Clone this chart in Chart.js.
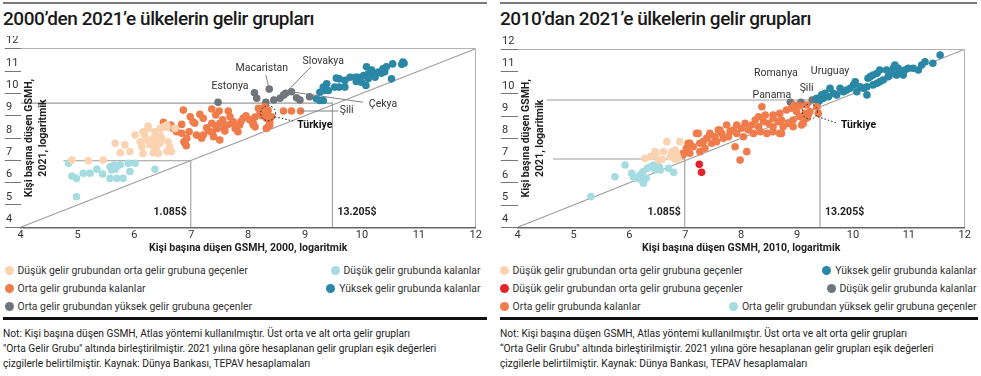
<!DOCTYPE html>
<html lang="tr">
<head>
<meta charset="utf-8">
<title>Ülkelerin gelir grupları</title>
<script src="https://cdn.jsdelivr.net/npm/chart.js@4.4.1/dist/chart.umd.min.js"></script>
<style>
  body { margin: 0; width: 981px; height: 376px; position: relative; overflow: hidden; background: #fff; font-family: Roboto, "Noto Sans", sans-serif; color: #222; }
  .rule { position: absolute; top: 2px; height: 2px; background: #7a7a7a; }
  .title { position: absolute; top: 7px; font-size: 19px; line-height: 24px; font-weight: 500; letter-spacing: -0.45px; color: #1a1a1a; white-space: nowrap; }
  .box { position: absolute; top: 36px; width: 490px; height: 224px; }
  .legend { position: absolute; top: 261px; font-size: 10.4px; color: #333; }
  .lrow { display: flex; justify-content: space-between; align-items: center; height: 18.3px; white-space: nowrap; }
  .litem { display: flex; align-items: center; }
  .litem i { display: inline-block; width: 9px; height: 9px; border-radius: 50%; margin-right: 4px; }
  .sep { position: absolute; top: 317px; height: 3px; background: #111; }
  .note { position: absolute; top: 327px; font-size: 10.2px; line-height: 14.8px; color: #222; white-space: nowrap; }
</style>
</head>
<body>
<div class="rule" style="left:3px;width:484px"></div>
<div class="rule" style="left:500px;width:477px"></div>
<div class="title" style="left:3px">2000’den 2021’e ülkelerin gelir grupları</div>
<div class="title" style="left:500px">2010’dan 2021’e ülkelerin gelir grupları</div>
<div class="box" style="left:0"><canvas id="c00"></canvas></div>
<div class="box" style="left:490px"><canvas id="c10"></canvas></div>
<div class="legend" id="lg00" style="left:4.5px;width:476px"></div>
<div class="legend" id="lg10" style="left:499.5px;width:477px"></div>
<div class="sep" style="left:3px;width:484px"></div>
<div class="sep" style="left:500px;width:478px"></div>
<div class="note" style="left:3px">Not: Kişi başına düşen GSMH, Atlas yöntemi kullanılmıştır. Üst orta ve alt orta gelir grupları<br>"Orta Gelir Grubu" altında birleştirilmiştir. 2021 yılına göre hesaplanan gelir grupları eşik değerleri<br>çizgilerle belirtilmiştir. Kaynak: Dünya Bankası, TEPAV hesaplamaları</div>
<div class="note" style="left:500px">Not: Kişi başına düşen GSMH, Atlas yöntemi kullanılmıştır. Üst orta ve alt orta gelir grupları<br>“Orta Gelir Grubu" altında birleştirilmiştir. 2021 yılına göre hesaplanan gelir grupları eşik değerleri<br>çizgilerle belirtilmiştir. Kaynak: Dünya Bankası, TEPAV hesaplamaları</div>
<script>
// values are ln(GNI per capita), [start year, 2021]
const lowToMid00 = [[4.90,7.01],[5.19,6.98],[5.45,7.01],[5.66,7.76],[5.75,7.34],[5.83,7.69],[5.92,7.39],[6.01,8.13],[6.10,7.83],[6.13,7.61],[6.15,7.31],[6.18,8.13],[6.24,8.54],[6.33,7.76],[6.36,8.28],[6.39,7.61],[6.42,7.31],[6.45,7.76],[6.48,7.99],[6.51,8.50],[6.57,8.48],[6.57,7.39],[6.59,7.83],[6.62,7.61],[6.65,7.39],[6.33,7.34],[6.15,8.28],[6.24,8.43],[6.45,8.43],[6.54,8.50],[6.45,8.13],[6.33,7.99],[6.21,7.91],[6.39,7.91],[6.27,7.69],[6.36,7.46],[6.71,8.43],[6.57,8.58]];
const lowStay00 = [[4.84,6.87],[4.90,6.30],[4.98,6.19],[5.10,6.42],[5.22,6.42],[5.34,6.60],[5.44,6.39],[5.57,6.71],[5.60,6.57],[5.64,6.78],[5.66,6.60],[5.69,6.72],[5.75,6.80],[5.57,6.19],[5.69,6.19],[5.80,6.19],[5.89,6.87],[5.92,6.50],[6.01,6.87],[6.36,6.60],[4.98,5.37]];
const midStay00 = [[6.86,9.25],[7.15,9.06],[7.21,8.88],[7.36,9.30],[7.43,9.03],[7.49,9.21],[7.65,9.21],[7.68,8.95],[7.55,8.81],[7.36,8.66],[7.43,8.55],[7.27,8.46],[7.31,8.31],[7.37,8.25],[7.46,8.43],[7.50,8.66],[7.54,8.50],[7.59,8.31],[7.63,8.58],[7.71,8.66],[7.77,8.43],[7.82,8.28],[7.87,8.73],[7.91,8.88],[7.96,9.00],[8.03,8.81],[8.09,8.58],[8.12,8.94],[8.18,9.33],[8.21,9.15],[8.24,9.00],[8.29,9.40],[8.35,9.24],[8.32,8.88],[8.38,8.73],[8.35,8.50],[8.41,8.95],[8.62,9.21],[8.76,9.21],[8.92,9.21],[6.98,8.95],[7.06,8.66],[6.96,8.28],[7.09,8.13],[7.18,7.99],[6.87,7.83],[6.91,7.65],[6.68,8.43],[6.74,8.28],[6.83,8.61],[6.64,8.58],[6.51,8.70],[7.74,8.73],[7.85,8.58],[8.09,8.66],[8.12,8.50],[8.38,8.58],[8.32,8.43],[7.03,8.73],[7.21,8.13],[7.39,8.06],[7.50,7.91],[6.89,7.76],[6.92,7.99],[6.83,8.21],[8.33,9.12]];
const highStay00 = [[10.70,11.30],[10.74,11.35],[10.72,11.40],[10.54,11.32],[10.37,11.10],[10.29,10.95],[10.20,10.88],[10.11,10.88],[10.03,10.80],[10.23,10.72],[10.11,10.65],[9.93,10.72],[9.88,10.72],[9.90,10.53],[9.99,10.50],[10.52,10.65],[10.07,10.35],[9.79,10.72],[9.70,10.58],[9.55,10.68],[9.60,10.65],[9.52,10.28],[9.60,10.28],[9.70,10.28],[9.38,10.43],[9.32,10.28],[9.35,10.13],[9.41,10.13],[9.26,10.05],[9.20,9.76],[9.26,9.68],[9.32,9.68],[10.40,10.97],[10.43,11.19],[10.34,10.90],[10.17,11.04],[10.08,11.19]];
const midToHigh00 = [[7.47,9.60],[8.11,10.03],[8.15,9.78],[8.37,10.19],[8.31,9.60],[8.45,9.70],[8.56,9.78],[8.62,9.92],[8.66,10.00],[8.76,10.07],[8.85,9.80],[8.91,9.70],[9.08,9.85]];

const lowToMid10 = [[6.28,7.10],[6.43,7.25],[6.52,7.02],[6.61,7.40],[6.67,7.85],[6.76,7.17],[6.82,7.47],[6.87,7.10],[6.90,7.85],[6.47,7.33],[6.73,7.17],[6.76,7.40],[6.82,7.06],[6.58,7.06],[6.46,7.40],[6.37,7.17],[6.85,7.25]];
const lowToMidRed10 = [[7.25,6.83],[7.29,6.47]];
const midStay10 = [[8.37,9.42],[8.57,9.05],[8.69,9.12],[8.81,9.27],[8.90,9.35],[8.99,9.20],[9.05,8.97],[9.14,9.12],[9.20,9.05],[9.11,8.67],[8.93,8.82],[8.84,8.67],[8.75,8.52],[8.66,8.75],[8.57,8.52],[8.49,8.67],[8.40,8.75],[8.31,8.52],[8.25,8.82],[8.19,8.60],[8.13,8.37],[8.07,8.67],[8.01,8.45],[7.92,8.60],[7.86,8.37],[7.80,8.30],[7.74,8.60],[7.65,8.22],[7.59,8.37],[7.53,8.07],[7.44,8.22],[7.38,8.00],[7.32,7.85],[7.26,7.78],[7.20,8.22],[7.14,7.62],[7.08,7.78],[7.02,7.55],[6.96,7.33],[7.26,7.40],[7.35,7.55],[7.47,7.78],[7.56,7.85],[7.68,8.00],[7.77,8.07],[7.92,8.22],[8.04,8.07],[8.10,7.40],[7.89,7.62],[8.22,8.22],[8.34,8.30],[8.46,8.22],[8.57,8.30],[8.69,8.22],[8.72,8.82],[8.43,9.05],[8.31,8.97],[8.93,8.52],[9.08,8.60],[9.17,8.90],[8.57,8.90],[7.05,7.78],[6.96,7.25],[7.08,7.33],[7.23,8.22],[7.44,8.15],[7.62,8.37],[7.98,7.02],[8.72,8.22],[9.38,9.12],[9.17,9.50],[9.35,9.42],[9.05,9.45],[8.95,9.50],[9.23,9.20]];
const highStay10 = [[11.56,11.74],[11.43,11.37],[11.29,11.44],[11.23,11.29],[11.17,11.07],[11.08,11.15],[10.99,11.15],[10.93,11.07],[10.89,10.92],[10.83,10.99],[10.75,11.29],[10.72,11.15],[10.78,10.84],[10.69,10.92],[10.63,10.77],[10.60,11.07],[10.54,10.62],[10.48,11.07],[10.43,10.92],[10.36,10.84],[10.31,10.77],[10.27,10.70],[10.36,10.40],[10.43,10.47],[10.48,10.54],[10.25,10.32],[10.19,10.25],[10.13,10.32],[10.07,10.09],[10.04,10.54],[10.01,10.40],[9.95,10.25],[9.89,10.17],[9.83,10.09],[9.77,10.25],[9.71,9.95],[9.65,10.02],[9.59,10.25],[9.56,9.87],[9.50,10.02],[9.47,9.80],[9.44,9.95],[9.41,9.72],[9.38,9.64],[9.35,9.80],[10.25,9.95],[10.90,10.84],[10.81,11.15]];
const lowStayGray10 = [[8.88,9.62],[9.07,9.62],[9.27,9.72]];
const midToHighBlue10 = [[5.31,5.38],[5.74,6.27],[5.92,6.80],[6.04,6.43],[6.07,6.27],[6.13,6.20],[6.19,6.35],[6.24,6.50],[6.25,5.98],[6.30,6.20],[6.32,6.65],[6.37,6.72],[6.43,6.80],[6.46,6.58],[6.49,6.68],[6.53,6.72],[6.55,6.58],[6.70,6.65],[6.79,6.47],[6.22,6.13]];

// income thresholds drawn as lines (1.085$ and 13.205$), where each horizontal line starts
const cut00 = { x: [6.99, 9.48], y: [6.98, 9.56], from: [4.75, 4.0] };
const cut10 = { x: [6.99, 9.41], y: [7.07, 9.72], from: [4.63, 4.52] };
const cutLabels = ['1.085$', '13.205$'];

const peach = '#fbd3b1', lightBlue = '#a4dce1', orange = '#f07b4b', teal = '#2a88a6', gray = '#6e757b', red = '#e3222a';

Chart.defaults.font.family = 'Roboto, "Noto Sans", sans-serif';
Chart.defaults.color = '#333';

function dots(label, pairs, color) {
  return {
    label: label,
    data: pairs.map(function (p) { return { x: p[0], y: p[1] }; }),
    backgroundColor: color, borderWidth: 0, pointRadius: 3.8, pointHoverRadius: 3.8, order: 1
  };
}

function rule(pairs) {
  return {
    data: pairs.map(function (p) { return { x: p[0], y: p[1] }; }),
    showLine: true, borderColor: '#9c9c9c', borderWidth: 1.1, pointRadius: 0, order: 10
  };
}

function cutRules(cut) {
  return [
    rule([[4, 4], [12, 12]]),
    rule([[cut.from[0], cut.y[0]], [cut.x[0], cut.y[0]], [cut.x[0], 4]]),
    rule([[cut.from[1], cut.y[1]], [cut.x[1], cut.y[1]], [cut.x[1], 4]])
  ];
}

function marks(cfg) {
  return {
    id: 'marks',
    afterDatasetsDraw: function (chart) {
      const ctx = chart.ctx, area = chart.chartArea;
      const px = function (v) { return chart.scales.x.getPixelForValue(v); };
      const py = function (v) { return chart.scales.y.getPixelForValue(v); };
      ctx.save();
      ctx.fillStyle = '#222';
      ctx.textBaseline = 'middle';
      ctx.font = 'bold 10.5px Roboto';
      ctx.textAlign = 'right';
      ctx.fillText(cutLabels[0], px(cfg.cut.x[0]) - 4, area.bottom - 14.5);
      ctx.textAlign = 'left';
      ctx.fillText(cutLabels[1], px(cfg.cut.x[1]) + 5, area.bottom - 14.5);

      // y title sits inside the plot
      ctx.save();
      ctx.translate(area.left + 8.5, (area.top + area.bottom) / 2);
      ctx.rotate(-Math.PI / 2);
      ctx.textAlign = 'center';
      ctx.fillText(cfg.yTitle[0], 0, 0);
      ctx.fillText(cfg.yTitle[1], 0, 14.5);
      ctx.restore();

      cfg.names.forEach(function (n) {
        ctx.lineWidth = 1;
        ctx.strokeStyle = n.bold ? '#222' : '#808080';
        ctx.setLineDash(n.bold ? [1.5, 2] : []);
        if (n.line) {
          ctx.beginPath();
          ctx.moveTo(px(n.line[0][0]), py(n.line[0][1]));
          ctx.lineTo(px(n.line[1][0]), py(n.line[1][1]));
          ctx.stroke();
        }
        if (n.ring) {
          ctx.beginPath();
          ctx.arc(px(n.ring[0]), py(n.ring[1]), 7.5, 0, 2 * Math.PI);
          ctx.stroke();
        }
        ctx.setLineDash([]);
        ctx.font = (n.bold ? 'bold ' : '') + '10.5px Roboto';
        ctx.fillStyle = n.bold ? '#111' : '#333';
        ctx.textAlign = 'center';
        ctx.fillText(n.text, px(n.at[0]), py(n.at[1]));
      });
      ctx.restore();
    }
  };
}

function makeChart(id, sets, cfg, pad, yWidth, tickLen) {
  const edge = function (c) { return c.tick && c.tick.value === 12 ? '#b3b3b3' : 'rgba(0,0,0,0)'; };
  return new Chart(document.getElementById(id), {
    type: 'scatter',
    data: { datasets: sets },
    options: {
      responsive: true,
      maintainAspectRatio: false,
      animation: false,
      events: [],
      layout: { padding: pad },
      plugins: { legend: { display: false }, tooltip: { enabled: false } },
      scales: {
        x: {
          type: 'linear', min: 4, max: 12,
          afterFit: function (s) { s.height = 32.7; },
          ticks: { stepSize: 1, padding: 1, maxRotation: 0, font: { size: 11 }, color: '#333' },
          grid: { drawTicks: false, color: edge },
          border: { display: true, color: '#666', width: 1.5 },
          title: { display: true, text: cfg.xTitle, color: '#222', font: { size: 10.5, weight: 'bold' }, padding: { top: 0, bottom: 5 } }
        },
        y: {
          type: 'linear', min: 4, max: 12,
          afterFit: function (s) { s.width = yWidth; },
          ticks: { stepSize: 1, crossAlign: 'far', labelOffset: -8, padding: 0, font: { size: 11 }, color: '#333' },
          grid: { tickLength: tickLen, tickColor: '#777', color: edge },
          border: { display: false }
        }
      }
    },
    plugins: [marks(cfg)]
  });
}

function buildLegend(chart, el, rows) {
  const sets = chart.data.datasets;
  rows.forEach(function (row) {
    const div = document.createElement('div');
    div.className = 'lrow';
    row.forEach(function (i) {
      const item = document.createElement('span');
      item.className = 'litem';
      const dot = document.createElement('i');
      dot.style.background = sets[i].backgroundColor;
      item.appendChild(dot);
      item.appendChild(document.createTextNode(sets[i].label));
      div.appendChild(item);
    });
    el.appendChild(div);
  });
}

const chart00 = makeChart('c00', [
  dots('Düşük gelir grubundan orta gelir grubuna geçenler', lowToMid00, peach),
  dots('Düşük gelir grubunda kalanlar', lowStay00, lightBlue),
  dots('Orta gelir grubunda kalanlar', midStay00, orange),
  dots('Yüksek gelir grubunda kalanlar', highStay00, teal),
  dots('Orta gelir grubundan yüksek gelir grubuna geçenler', midToHigh00, gray)
].concat(cutRules(cut00)), {
  cut: cut00,
  xTitle: 'Kişi başına düşen GSMH, 2000, logaritmik',
  yTitle: ['Kişi başına düşen GSMH,', '2021, logaritmik'],
  names: [
    { text: 'Estonya', at: [7.68, 10.30] },
    { text: 'Macaristan', at: [8.24, 11.12], line: [[8.31, 10.82], [8.37, 10.19]] },
    { text: 'Slovakya', at: [9.32, 11.42], line: [[9.10, 11.18], [8.62, 9.92]] },
    { text: 'Çekya', at: [10.37, 9.52], line: [[8.76, 10.07], [10.02, 9.60]] },
    { text: 'Şili', at: [9.73, 9.25], line: [[8.92, 9.21], [9.58, 9.21]] },
    { text: 'Türkiye', at: [9.17, 8.58], bold: true, ring: [8.35, 9.11], line: [[8.47, 8.95], [8.79, 8.76]] }
  ]
}, { left: 6, right: 14.3, top: 12.7, bottom: 0 }, 14.7, 16);

const chart10 = makeChart('c10', [
  dots('Düşük gelir grubundan orta gelir grubuna geçenler', lowToMid10, peach),
  dots('Düşük gelir grubundan orta gelir grubuna geçenler', lowToMidRed10, red),
  dots('Orta gelir grubunda kalanlar', midStay10, orange),
  dots('Yüksek gelir grubunda kalanlar', highStay10, teal),
  dots('Düşük gelir grubunda kalanlar', lowStayGray10, gray),
  dots('Orta gelir grubundan yüksek gelir grubuna geçenler', midToHighBlue10, lightBlue)
].concat(cutRules(cut10)), {
  cut: cut10,
  xTitle: 'Kişi başına düşen GSMH, 2010, logaritmik',
  yTitle: ['Kişi başına düşen GSMH,', '2021, logaritmik'],
  names: [
    { text: 'Romanya', at: [8.62, 10.92] },
    { text: 'Uruguay', at: [9.59, 11.02] },
    { text: 'Şili', at: [9.17, 10.25] },
    { text: 'Panama', at: [8.55, 9.95] },
    { text: 'Türkiye', at: [10.10, 8.60], bold: true, ring: [9.23, 9.20], line: [[9.37, 8.97], [9.71, 8.69]] }
  ]
}, { left: 12, right: 15.3, top: 13.3, bottom: 0 }, 15.7, 17);

buildLegend(chart00, document.getElementById('lg00'), [[0, 1], [2, 3], [4]]);
buildLegend(chart10, document.getElementById('lg10'), [[0, 3], [1, 4], [2, 5]]);
</script>
</body>
</html>
